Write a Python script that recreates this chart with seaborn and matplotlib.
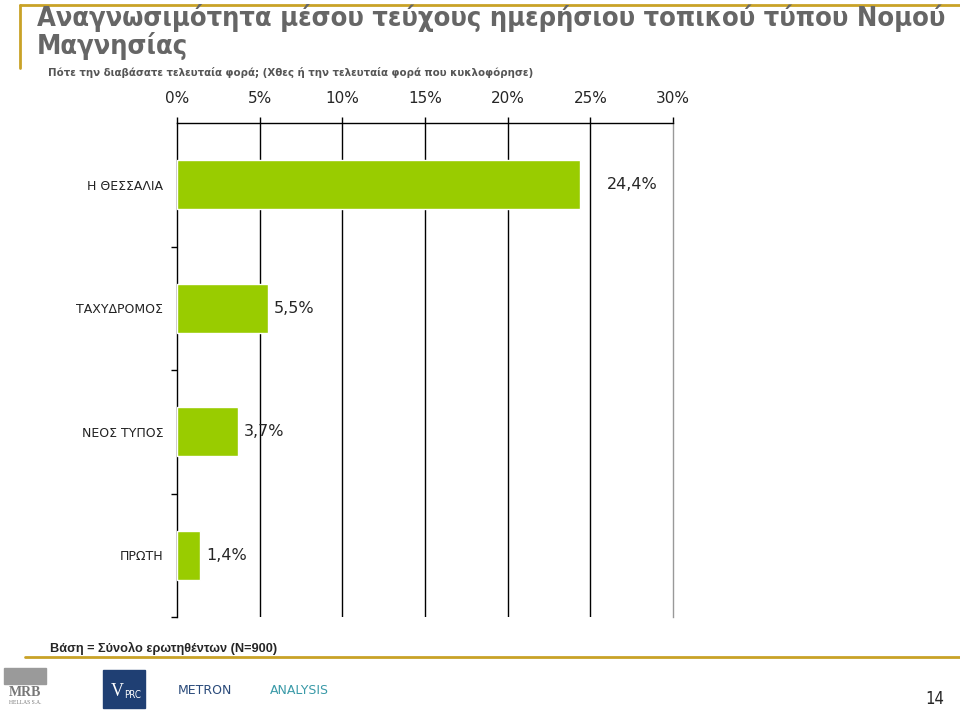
import matplotlib
matplotlib.use("Agg")
import matplotlib.pyplot as plt
import seaborn as sns
import pandas as pd
from matplotlib.patches import Rectangle
from matplotlib.lines import Line2D

# Data
categories = ["Η ΘΕΣΣΑΛΙΑ", "ΤΑΧΥΔΡΟΜΟΣ", "ΝΕΟΣ ΤΥΠΟΣ", "ΠΡΩΤΗ"]
values = [24.4, 5.5, 3.7, 1.4]
value_labels = ["24,4%", "5,5%", "3,7%", "1,4%"]
x_ticks = [0, 5, 10, 15, 20, 25, 30]
x_tick_labels = ["0%", "5%", "10%", "15%", "20%", "25%", "30%"]

title = "Αναγνωσιμότητα μέσου τεύχους ημερήσιου τοπικού τύπου Νομού\nΜαγνησίας"
subtitle = "Πότε την διαβάσατε τελευταία φορά; (Χθες ή την τελευταία φορά που κυκλοφόρησε)"
base_note = "Βάση = Σύνολο ερωτηθέντων (N=900)"

df = pd.DataFrame({"category": categories, "value": values})

sns.set_style("white")
plt.rcParams['font.family'] = ['DejaVu Sans']

fig = plt.figure(figsize=(9.6, 7.1), dpi=100)
ax = fig.add_axes([177 / 960, 1 - 617 / 710, 496 / 960, 494 / 710])

sns.barplot(data=df, x="value", y="category", color="#99cc00", width=0.4,
            saturation=1, ax=ax, zorder=3)

ax.set_xlim(0, 30)
ax.set_ylim(3.5, -0.5)
ax.set_xticks(x_ticks)
ax.set_xticklabels(x_tick_labels, fontsize=11)
ax.xaxis.tick_top()
ax.tick_params(axis="x", direction="out", length=4, width=1, color="black", pad=8)
ax.set_yticks([0, 1, 2, 3])
ax.set_yticklabels(categories, fontsize=9, color="#222222")
ax.tick_params(axis="y", which="major", left=False, length=0, pad=10)
ax.set_yticks([0.5, 1.5, 2.5, 3.5], minor=True)
ax.tick_params(axis="y", which="minor", left=True, direction="out",
               length=4, width=1, color="black")
ax.set_xlabel("")
ax.set_ylabel("")

for x in x_ticks[1:-1]:
    ax.axvline(x, color="black", lw=1, zorder=1)

ax.spines["bottom"].set_visible(False)
ax.spines["left"].set_color("black")
ax.spines["top"].set_color("black")
ax.spines["right"].set_color("#999999")
for s in ["left", "top", "right"]:
    ax.spines[s].set_linewidth(1)

for i, (v, lab) in enumerate(zip(values, value_labels)):
    off = 1.6 if v > 20 else 0.35
    ax.text(v + off, i, lab, va="center", ha="left", fontsize=11.5, zorder=4)

# header
fig.text(37 / 960, 1 - 4 / 710, title, fontsize=19.5, fontweight="bold",
         color="#666666", va="top", ha="left", linespacing=1.0,
         fontstretch="condensed")
fig.text(48 / 960, 1 - 72 / 710, subtitle, fontsize=8.2, fontweight="bold",
         color="#555555", va="center", ha="left", fontstretch="condensed")
fig.add_artist(Line2D([20 / 960, 1], [1 - 5 / 710] * 2, color="#c9a227", lw=2))
fig.add_artist(Line2D([20 / 960] * 2, [1 - 5 / 710, 1 - 68 / 710], color="#c9a227", lw=2))

# footer
fig.text(50 / 960, 1 - 648 / 710, base_note, fontsize=9.2, fontweight="bold",
         family="Liberation Sans", va="center", ha="left")
fig.add_artist(Line2D([25 / 960, 1], [1 - 657 / 710] * 2, color="#c9a227", lw=2))

fig.add_artist(Rectangle((4 / 960, 1 - 684 / 710), 42 / 960, 16 / 710,
                         color="#9a9a9a", transform=fig.transFigure))
fig.text(25 / 960, 1 - 693 / 710, "MRB", fontsize=10, fontweight="bold",
         family="Liberation Serif", color="#777777", ha="center", va="center")
fig.text(25 / 960, 1 - 703 / 710, "HELLAS S.A.", fontsize=4, family="Liberation Serif",
         color="#777777", ha="center", va="center")
fig.add_artist(Rectangle((103 / 960, 1 - 708 / 710), 42 / 960, 38 / 710,
                         color="#1f3f73", transform=fig.transFigure))
fig.text(124 / 960, 1 - 692 / 710, "V", fontsize=13, color="white",
         family="Liberation Serif", ha="right", va="center")
fig.text(124 / 960, 1 - 695 / 710, "PRC", fontsize=7, color="white",
         ha="left", va="center", fontstretch="condensed")
fig.text(178 / 960, 1 - 690 / 710, "METRON", fontsize=9, color="#2a4a7a",
         ha="left", va="center")
fig.text(270 / 960, 1 - 690 / 710, "ANALYSIS", fontsize=9, color="#3a9aa8",
         ha="left", va="center")
fig.text(944 / 960, 1 - 708 / 710, "14", fontsize=12, ha="right", va="bottom",
         fontstretch="condensed")

fig.savefig("out.png", dpi=100)
